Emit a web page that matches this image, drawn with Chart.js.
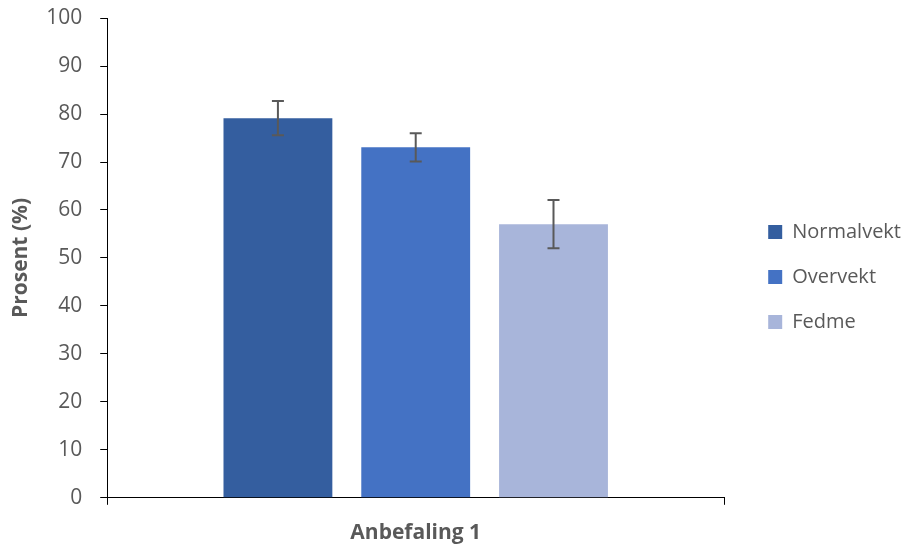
<!DOCTYPE html>
<html>
<head>
<meta charset="utf-8">
<script src="https://cdn.jsdelivr.net/npm/chart.js@4"></script>
<style>
  body { margin: 0; background: #fff; }
  #wrap { width: 903px; height: 548px; }
</style>
</head>
<body>
<div id="wrap"><canvas id="myChart" width="903" height="548"></canvas></div>
<script>
var categories = ['Anbefaling 1'];
var seriesNames = ['Normalvekt', 'Overvekt', 'Fedme'];
var values = [79.1, 73.1, 57.0];
var errLow = [75.6, 70.1, 52.0];
var errHigh = [82.7, 76.0, 62.1];
var yTicks = [0, 10, 20, 30, 40, 50, 60, 70, 80, 90, 100];

var colors = ['#345E9F', '#4472C4', '#A8B5DA'];

Chart.defaults.font.family = "'Open Sans', sans-serif";
Chart.defaults.color = '#595959';

// draws the whiskers through the y scale
var errorBars = {
    id: 'errorBars',
    afterDatasetsDraw: function(chart) {
        var ctx = chart.ctx;
        var y = chart.scales.y;
        ctx.save();
        ctx.strokeStyle = '#595959';
        ctx.lineWidth = 2;
        chart.data.datasets.forEach(function(ds, i) {
            var bar = chart.getDatasetMeta(i).data[0];
            var top = y.getPixelForValue(errHigh[i]);
            var bot = y.getPixelForValue(errLow[i]);
            ctx.beginPath();
            ctx.moveTo(bar.x, top); ctx.lineTo(bar.x, bot);
            ctx.moveTo(bar.x - 6, top); ctx.lineTo(bar.x + 6, top);
            ctx.moveTo(bar.x - 6, bot); ctx.lineTo(bar.x + 6, bot);
            ctx.stroke();
        });
        ctx.restore();
    }
};

// nudge the legend a bit right/up, like the original
var legendShift = {
    id: 'legendShift',
    afterLayout: function(chart) {
        var lg = chart.legend;
        lg.left += 19; lg.right += 19;
        lg.top -= 7; lg.bottom -= 7;
    }
};

var ctx = document.getElementById('myChart').getContext('2d');
var chart = new Chart(ctx, {
    type: 'bar',
    data: {
        labels: categories,
        datasets: seriesNames.map(function(name, i) {
            return {
                label: name,
                data: [values[i]],
                backgroundColor: colors[i],
                categoryPercentage: 0.67,
                barPercentage: 0.79
            };
        })
    },
    options: {
        responsive: false,
        animation: false,
        layout: { padding: { top: 6, left: 4, right: 11, bottom: -14 } },
        plugins: {
            legend: {
                position: 'right',
                labels: {
                    boxWidth: 14,
                    boxHeight: 14,
                    padding: 25,
                    color: '#595959',
                    font: { size: 20 }
                }
            },
            tooltip: { enabled: false }
        },
        scales: {
            x: {
                grid: { drawOnChartArea: false, tickLength: 7, color: '#000' },
                border: { color: '#000', width: 1 },
                ticks: { padding: 16, color: '#595959', font: { size: 21, weight: 'bold' } }
            },
            y: {
                min: 0,
                max: 100,
                afterBuildTicks: function(axis) {
                    axis.ticks = yTicks.map(function(v) { return { value: v }; });
                },
                grid: { drawOnChartArea: false, tickLength: 7, color: '#000' },
                border: { color: '#000', width: 1 },
                ticks: { padding: 18, color: '#595959', font: { size: 21, lineHeight: 0.01 } },
                title: {
                    display: true,
                    text: 'Prosent (%)',
                    color: '#595959',
                    font: { size: 21, weight: 'bold' },
                    padding: { top: 4, bottom: -5 }
                }
            }
        }
    },
    plugins: [errorBars, legendShift]
});
</script>
</body>
</html>
